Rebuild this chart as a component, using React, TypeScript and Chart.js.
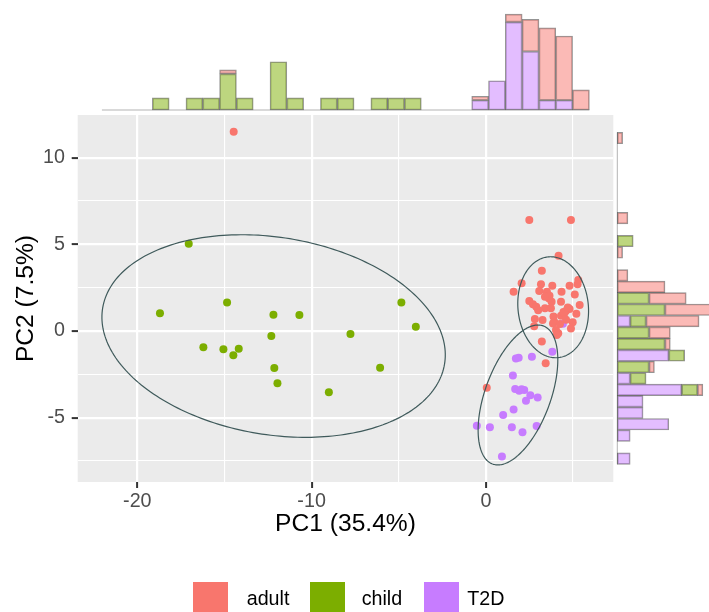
import React, { useEffect, useRef } from "react";
import { Chart, registerables } from "chart.js";

Chart.register(...registerables);

// ---- PCA scores per group ----
const adultPC1 = [-14.47, 2.49, 4.88, 4.17, 3.21, 2.05, 1.59, 3.16, 3.06, 3.81, 3.5, 3.65, 4.34, 4.8, 5.3, 5.26, 5.1, 5.38, 5.19, 4.8, 4.59, 4.31, 3.77, 3.62, 3.39, 2.49, 2.7, 2.89, 3.39, 3.73, 3.88, 4.31, 4.5, 2.81, 3.25, 3.92, 3.85, 4.98, 4.88, 2.77, 4.02, 4.15, 4.07, 3.21, 3.43, 0.05, 4.45, 4.7, 4.6, 4.25, 3.0];
const adultPC2 = [11.5, 6.4, 6.4, 4.34, 3.48, 2.75, 2.27, 2.69, 2.31, 2.61, 2.27, 2.04, 2.27, 2.61, 2.94, 2.69, 2.11, 1.5, 1.0, 1.27, 1.15, 1.69, 1.69, 1.88, 1.98, 1.73, 1.54, 1.4, 1.31, 1.31, 0.83, 0.88, 1.02, 0.69, 0.63, 0.54, 0.44, 0.5, 0.15, 0.27, 0.06, -0.13, -0.23, -0.61, -1.86, -3.27, 1.1, 1.35, 0.65, 0.4, 1.2];

const childPC1 = [-17.05, -14.85, -18.7, -12.19, -12.31, -16.21, -15.06, -14.18, -14.49, -12.14, -11.96, -10.7, -7.77, -4.85, -4.02, -6.07, -9.01];
const childPC2 = [5.03, 1.65, 1.02, 0.94, -0.29, -0.94, -1.05, -1.02, -1.4, -2.13, -3.01, 0.92, -0.17, 1.65, 0.25, -2.12, -3.53];

const t2dPC1 = [4.42, 3.81, 1.72, 1.88, 2.64, 1.55, 1.68, 1.91, 2.2, 2.55, 2.97, 2.3, 1.59, 0.99, -0.52, 0.23, 1.49, 2.1, 2.91, 0.92, 2.05];
const t2dPC2 = [0.42, -1.19, -1.58, -1.54, -1.48, -2.57, -3.34, -3.44, -3.4, -3.7, -3.84, -4.03, -4.53, -4.84, -5.46, -5.55, -5.55, -5.84, -5.48, -7.24, -3.36];

const groupNames = ["adult", "child", "T2D"];
const groupColors = ["#F8766D", "#7CAE00", "#C77CFF"];
const histFills = ["rgba(248,118,109,0.5)", "rgba(124,174,0,0.5)", "rgba(199,124,255,0.5)"];

// ---- 95% ellipses: centre, semi-axes, rotation (deg) in PC space ----
const ellipseCenters = [[3.86, 1.37], [-12.18, -0.29], [1.84, -3.69]];
const ellipseRadii = [[2.02, 2.92], [9.94, 5.69], [1.88, 4.24]];
const ellipseAngles = [5.6, -9.4, -20];

// ---- marginal histogram of PC1 (29 bins) ----
const pc1BinStart = -22.03;
const pc1BinWidth = 0.9644;
const pc1CountsAdult = [0, 0, 0, 0, 0, 0, 0, 1, 0, 0, 0, 0, 0, 0, 0, 0, 0, 0, 0, 0, 0, 0, 1, 0, 2, 8, 18, 16, 5];
const pc1CountsChild = [0, 0, 0, 1, 0, 1, 1, 3, 1, 0, 4, 1, 0, 1, 1, 0, 1, 1, 1, 0, 0, 0, 0, 0, 0, 0, 0, 0, 0];
const pc1CountsT2D = [0, 0, 0, 0, 0, 0, 0, 0, 0, 0, 0, 0, 0, 0, 0, 0, 0, 0, 0, 0, 0, 0, 1, 3, 9, 6, 1, 1, 0];

// ---- marginal histogram of PC2 (29 bins, bottom to top) ----
const pc2BinStart = -7.69;
const pc2BinWidth = 0.6604;
const pc2CountsAdult = [0, 0, 0, 0, 0, 0, 1, 0, 1, 0, 1, 4, 10, 12, 7, 9, 2, 0, 1, 0, 0, 2, 0, 0, 0, 0, 0, 0, 1];
const pc2CountsChild = [0, 0, 0, 0, 0, 0, 1, 1, 2, 1, 3, 2, 1, 3, 2, 0, 0, 0, 0, 1, 0, 0, 0, 0, 0, 0, 0, 0, 0];
const pc2CountsT2D = [1, 0, 1, 4, 2, 2, 5, 1, 0, 4, 0, 0, 1, 0, 0, 0, 0, 0, 0, 0, 0, 0, 0, 0, 0, 0, 0, 0, 0];

// ---- axes ----
const pc1Limits = [-23.42, 7.31];
const pc2Limits = [-8.71, 12.46];
const pc1Breaks = [-20, -15, -10, -5, 0, 5];
const pc1Labelled = [-20, -10, 0];
const pc2Breaks = [-7.5, -5, -2.5, 0, 2.5, 5, 7.5, 10];
const pc2Labelled = [-5, 0, 5, 10];

const W = 709;
const H = 612;
const PANEL = { left: 77.7, right: 613.3, top: 115, bottom: 482 };
const FONT = "'Liberation Sans', Arial, Helvetica, sans-serif";

Chart.defaults.font.family = FONT;

const zip = (xs: number[], ys: number[]) => xs.map((x, i) => ({ x, y: ys[i] }));

const density = (counts: number[], width: number) => {
  const n = counts.reduce((a, b) => a + b, 0);
  return counts.map((c) => c / (n * width));
};

const panelBackground = {
  id: "panelBackground",
  beforeDraw(chart: any) {
    const { ctx, chartArea } = chart;
    ctx.save();
    ctx.fillStyle = "#EBEBEB";
    ctx.fillRect(chartArea.left, chartArea.top, chartArea.right - chartArea.left, chartArea.bottom - chartArea.top);
    ctx.restore();
  },
};

const ellipseLayer = {
  id: "ellipseLayer",
  afterDatasetsDraw(chart: any) {
    const { ctx, chartArea } = chart;
    const xs = chart.scales.x;
    const ys = chart.scales.y;
    ctx.save();
    ctx.beginPath();
    ctx.rect(chartArea.left, chartArea.top, chartArea.right - chartArea.left, chartArea.bottom - chartArea.top);
    ctx.clip();
    ctx.strokeStyle = "#3F5A5B";
    ctx.lineWidth = 1.2;
    ellipseCenters.forEach(([cx, cy], k) => {
      const [ra, rb] = ellipseRadii[k];
      const th = (ellipseAngles[k] * Math.PI) / 180;
      ctx.beginPath();
      const steps = 240;
      for (let i = 0; i <= steps; i++) {
        const t = (2 * Math.PI * i) / steps;
        const ex = ra * Math.cos(t);
        const ey = rb * Math.sin(t);
        const vx = cx + ex * Math.cos(th) - ey * Math.sin(th);
        const vy = cy + ex * Math.sin(th) + ey * Math.cos(th);
        const px = xs.getPixelForValue(vx);
        const py = ys.getPixelForValue(vy);
        if (i === 0) ctx.moveTo(px, py);
        else ctx.lineTo(px, py);
      }
      ctx.closePath();
      ctx.stroke();
    });
    ctx.restore();
  },
};

const barStyle = {
  borderColor: "rgba(0,0,0,0.42)",
  borderWidth: 1,
  borderSkipped: false as const,
  barPercentage: 1,
  categoryPercentage: 1,
  clip: false as const,
};

export default function App() {
  const mainRef = useRef<HTMLCanvasElement>(null);
  const topRef = useRef<HTMLCanvasElement>(null);
  const rightRef = useRef<HTMLCanvasElement>(null);

  useEffect(() => {
    const isMajorX = (v: number) => pc1Labelled.includes(v);
    const isMajorY = (v: number) => pc2Labelled.includes(v);

    const main = new Chart(mainRef.current!, {
      type: "scatter",
      data: {
        datasets: [
          { label: groupNames[0], data: zip(adultPC1, adultPC2), backgroundColor: groupColors[0] },
          { label: groupNames[1], data: zip(childPC1, childPC2), backgroundColor: groupColors[1] },
          { label: groupNames[2], data: zip(t2dPC1, t2dPC2), backgroundColor: groupColors[2] },
        ].map((d) => ({ ...d, pointRadius: 4, pointBorderWidth: 0, pointHoverRadius: 4, borderColor: d.backgroundColor })),
      },
      options: {
        responsive: false,
        animation: false,
        events: [],
        layout: { padding: { left: 0, top: PANEL.top, right: W - PANEL.right, bottom: 72.7 } },
        plugins: { legend: { display: false }, tooltip: { enabled: false } },
        scales: {
          x: {
            type: "linear",
            min: pc1Limits[0],
            max: pc1Limits[1],
            afterBuildTicks: (s: any) => {
              s.ticks = pc1Breaks.map((v) => ({ value: v }));
            },
            afterFit: (s: any) => {
              s.height = 57.3;
            },
            border: { display: false },
            grid: {
              color: "#FFFFFF",
              lineWidth: (c: any) => (c.tick && isMajorX(c.tick.value) ? 2.2 : 1.1),
              drawTicks: true,
              tickLength: 6,
              tickWidth: 2,
              tickColor: (c: any) => (c.tick && isMajorX(c.tick.value) ? "#333333" : "rgba(0,0,0,0)"),
            },
            ticks: {
              autoSkip: false,
              maxRotation: 0,
              padding: 2,
              color: "#4D4D4D",
              font: { size: 19.7 },
              callback: (v: any) => (isMajorX(Number(v)) ? String(v) : ""),
            },
            title: { display: true, text: "PC1 (35.4%)", color: "#000000", font: { size: 24.6 }, padding: 0 },
          },
          y: {
            type: "linear",
            min: pc2Limits[0],
            max: pc2Limits[1],
            afterBuildTicks: (s: any) => {
              s.ticks = pc2Breaks.map((v) => ({ value: v }));
            },
            afterFit: (s: any) => {
              s.width = PANEL.left;
            },
            border: { display: false },
            grid: {
              color: "#FFFFFF",
              lineWidth: (c: any) => (c.tick && isMajorY(c.tick.value) ? 2.2 : 1.1),
              drawTicks: true,
              tickLength: 6,
              tickWidth: 2,
              tickColor: (c: any) => (c.tick && isMajorY(c.tick.value) ? "#333333" : "rgba(0,0,0,0)"),
            },
            ticks: {
              autoSkip: false,
              padding: 6.7,
              color: "#4D4D4D",
              font: { size: 19.7 },
              callback: (v: any) => (isMajorY(Number(v)) ? String(v) : ""),
            },
            title: { display: true, text: "PC2 (7.5%)", color: "#000000", font: { size: 24.6 }, padding: { top: 11.2, bottom: 0 } },
          },
        },
      },
      plugins: [panelBackground, ellipseLayer],
    } as any);

    // PC1 marginal histogram (stacked densities: T2D, child, adult)
    const pc1Centers = pc1CountsAdult.map((_, i) => pc1BinStart + (i + 0.5) * pc1BinWidth);
    const topSeries = [
      [pc1CountsT2D, 2],
      [pc1CountsChild, 1],
      [pc1CountsAdult, 0],
    ] as [number[], number][];
    const top = new Chart(topRef.current!, {
      type: "bar",
      data: {
        datasets: [
          ...topSeries.map(([counts, g]) => ({
            type: "bar",
            label: groupNames[g],
            data: density(counts, pc1BinWidth).map((d, i) => ({ x: pc1Centers[i], y: d })),
            backgroundColor: histFills[g],
            ...barStyle,
          })),
          {
            type: "line",
            label: "base",
            data: [
              { x: pc1BinStart, y: 0 },
              { x: pc1BinStart + pc1CountsAdult.length * pc1BinWidth, y: 0 },
            ],
            borderColor: "rgba(0,0,0,0.3)",
            borderWidth: 1,
            pointRadius: 0,
            clip: false,
          },
        ],
      },
      options: {
        responsive: false,
        animation: false,
        events: [],
        layout: { padding: { left: PANEL.left, right: W - PANEL.right, top: 0, bottom: H - 110 } },
        plugins: { legend: { display: false }, tooltip: { enabled: false } },
        scales: {
          x: { type: "linear", min: pc1Limits[0], max: pc1Limits[1], offset: false, stacked: true, display: false },
          y: { type: "linear", min: 0, max: 0.5567, stacked: true, display: false },
        },
      },
    } as any);

    // PC2 marginal histogram (horizontal, stacked densities)
    const pc2Centers = pc2CountsAdult.map((_, i) => pc2BinStart + (i + 0.5) * pc2BinWidth);
    const rightSeries = [
      [pc2CountsT2D, 2],
      [pc2CountsChild, 1],
      [pc2CountsAdult, 0],
    ] as [number[], number][];
    const right = new Chart(rightRef.current!, {
      type: "bar",
      data: {
        datasets: [
          ...rightSeries.map(([counts, g]) => ({
            type: "bar",
            label: groupNames[g],
            data: density(counts, pc2BinWidth).map((d, i) => ({ x: d, y: pc2Centers[i] })),
            backgroundColor: histFills[g],
            ...barStyle,
          })),
          {
            type: "line",
            label: "base",
            indexAxis: "y",
            data: [
              { x: 0, y: pc2BinStart },
              { x: 0, y: pc2BinStart + pc2CountsAdult.length * pc2BinWidth },
            ],
            borderColor: "rgba(0,0,0,0.3)",
            borderWidth: 1,
            pointRadius: 0,
            clip: false,
          },
        ],
      },
      options: {
        indexAxis: "y",
        responsive: false,
        animation: false,
        events: [],
        layout: { padding: { left: 617.3, right: 0, top: PANEL.top, bottom: H - PANEL.bottom } },
        plugins: { legend: { display: false }, tooltip: { enabled: false } },
        scales: {
          y: { type: "linear", min: pc2Limits[0], max: pc2Limits[1], offset: false, stacked: true, display: false },
          x: { type: "linear", min: 0, max: 0.5137, offset: false, stacked: true, display: false },
        },
      },
    } as any);

    return () => {
      main.destroy();
      top.destroy();
      right.destroy();
    };
  }, []);

  const canvasStyle: React.CSSProperties = { position: "absolute", left: 0, top: 0, width: W, height: H };
  const keyLeft = [193.3, 310, 424];
  const textLeft = [246.7, 361.7, 467.3];

  return (
    <div style={{ position: "absolute", left: 0, top: 0, width: W, height: H, overflow: "hidden", background: "#FFFFFF" }}>
      <canvas ref={mainRef} width={W} height={H} style={canvasStyle} />
      <canvas ref={topRef} width={W} height={H} style={canvasStyle} />
      <canvas ref={rightRef} width={W} height={H} style={canvasStyle} />
      {groupNames.map((g, i) => (
        <React.Fragment key={g}>
          <div style={{ position: "absolute", left: keyLeft[i], top: 581.7, width: 35, height: 35, background: groupColors[i] }} />
          <span
            style={{
              position: "absolute",
              left: textLeft[i],
              top: 589.3,
              fontFamily: FONT,
              fontSize: 19.7,
              lineHeight: "19.7px",
              color: "#000000",
              whiteSpace: "nowrap",
            }}
          >
            {g}
          </span>
        </React.Fragment>
      ))}
    </div>
  );
}
